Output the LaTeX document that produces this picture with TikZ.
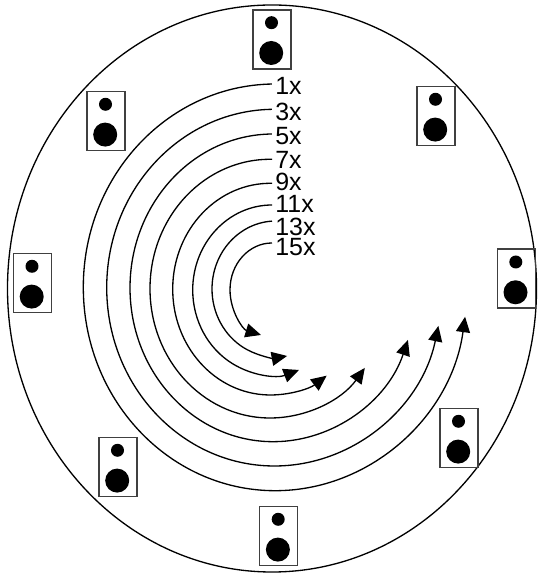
\documentclass[tikz,border=0pt]{standalone}
\usepackage{fontspec}
\setmainfont{Liberation Sans}
\usetikzlibrary{arrows.meta,calc}
\tikzset{
  speakerbox/.style={draw=black!75,line width=0.8pt,minimum width=0.76cm,minimum height=1.18cm,inner sep=0pt},
  tweeter/.style={circle,fill=black,minimum size=0.26cm,inner sep=0pt},
  woofer/.style={circle,fill=black,minimum size=0.48cm,inner sep=0pt},
  speedlabel/.style={anchor=west,inner sep=0pt,font=\fontsize{14.2}{15}\selectfont},
  sweep/.style={line width=0.75pt,-{Triangle[length=0.31cm,width=0.28cm]}}
}
\begin{document}
\begin{tikzpicture}[x=0.02cm,y=0.02cm]
  \useasboundingbox (0,0) rectangle (537,573);
  \draw[line width=0.75pt] (272,284.5) ellipse [x radius=264.5,y radius=283.5];
  % speakers round the wall
  \foreach \spk/\sx/\sy in {top/272/533.6,upleft/106/452,upright/436/457,left/32.5/290,right/516.3/294.3,lowleft/118/106,lowright/459/135,bottom/278.7/37}{
    \node[speakerbox] (\spk) at (\sx,\sy) {};
    \node[tweeter] (\spk tw) at ($(\spk)+(-0.5,16.7)$) {};
    \node[woofer] (\spk wf) at ($(\spk)+(-0.8,-13.6)$) {};
  }
  % one sweep per speed
  \foreach \lab/\ly/\cx/\cy/\rx/\ry/\ta/\tb in {
    1x/487/275.2/285.65/191.9/203.35/91/351.7,
    3x/461.3/274.5/285.35/167.8/178.35/90.9/347.6,
    5x/437/273.2/285.15/143.2/153.85/90.5/340.2,
    7x/413/270/284.35/120/129.35/89/322.2,
    9x/391.3/270.4/283.85/97.7/105.85/89/305.15,
    11x/369/272.1/283/79.4/85/90/289.8,
    13x/346.3/276/284/64/68/93.6/280,
    15x/325.7/272/283.2/42/46.8/90/254.8}{
    \node[speedlabel] (l\lab) at (275,\ly) {\lab};
    \coordinate (s\lab) at ($(\cx,\cy)+(\ta:\rx*0.02cm and \ry*0.02cm)$);
    \draw[sweep] (s\lab) arc[start angle=\ta,end angle=\tb,x radius=\rx,y radius=\ry];
  }
\end{tikzpicture}
\end{document}
